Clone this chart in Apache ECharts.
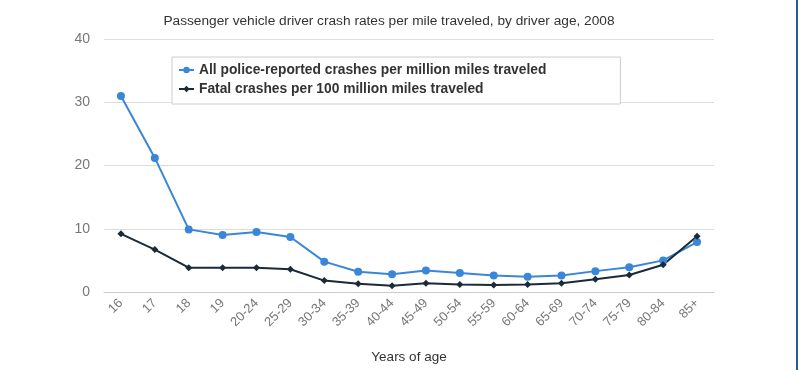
<!DOCTYPE html>
<html><head><meta charset="utf-8">
<script src="https://cdn.jsdelivr.net/npm/echarts@6/dist/echarts.min.js"></script>
<style>html,body{margin:0;padding:0;background:#fff}#c{width:799px;height:370px}</style>
</head><body><div id="c"></div>
<script>
const categories = ['16','17','18','19','20-24','25-29','30-34','35-39','40-44','45-49','50-54','55-59','60-64','65-69','70-74','75-79','80-84','85+'];
const allCrashes = [31.0,21.2,9.9,9.0,9.5,8.7,4.8,3.2,2.8,3.4,3.0,2.6,2.4,2.6,3.3,3.9,5.0,7.9];
const fatalCrashes = [9.2,6.7,3.85,3.85,3.85,3.6,1.8,1.3,1.0,1.4,1.2,1.1,1.2,1.4,2.0,2.7,4.3,8.8];
const yTicks = [0,10,20,30,40];
const seriesNames = ['All police-reported crashes per million miles traveled','Fatal crashes per 100 million miles traveled'];

const chart = echarts.init(document.getElementById('c'), null, {renderer:'canvas'});
chart.setOption({
  animation:false,
  title:{text:'Passenger vehicle driver crash rates per mile traveled, by driver age, 2008',
    left:384, top:9, textAlign:'center',
    textStyle:{fontFamily:'Liberation Sans, Arial',fontSize:13.7,fontWeight:'normal',color:'#333'}},
  legend:{orient:'vertical',left:172,top:57,
    backgroundColor:'#fff',borderColor:'#ccc',borderWidth:1,padding:[6,74,8,6],
    itemGap:5,itemWidth:15,itemHeight:8,
    textStyle:{fontFamily:'Liberation Sans, Arial',fontSize:13.8,fontWeight:'bold',color:'#333'},
    data:seriesNames},
  grid:{left:104,right:85,top:39,bottom:78},
  xAxis:{type:'category',data:categories,boundaryGap:true,
    name:'Years of age',nameLocation:'middle',nameGap:58,
    nameTextStyle:{fontFamily:'Liberation Sans, Arial',fontSize:13.5,color:'#333'},
    axisLine:{lineStyle:{color:'#ccc'}},
    axisTick:{alignWithLabel:true,length:6,lineStyle:{color:'#ccc'}},
    axisLabel:{rotate:45,fontFamily:'Liberation Sans, Arial',fontSize:13,color:'#777',margin:9}},
  yAxis:{type:'value',min:yTicks[0],max:yTicks[yTicks.length-1],interval:10,
    axisLine:{show:false},axisTick:{show:false},
    splitLine:{lineStyle:{color:'#ddd',width:1}},
    axisLabel:{fontFamily:'Liberation Sans, Arial',fontSize:14,color:'#777',margin:14}},
  series:[
    {name:seriesNames[0],type:'line',data:allCrashes,symbol:'circle',symbolSize:8,
     itemStyle:{color:'#3a86d8'},lineStyle:{color:'#3a86d8',width:2}},
    {name:seriesNames[1],type:'line',data:fatalCrashes,symbol:'diamond',symbolSize:7,
     itemStyle:{color:'#1b2a38'},lineStyle:{color:'#1b2a38',width:2}}
  ],
  graphic:[{type:'rect',shape:{x:796,y:0,width:2,height:370},style:{fill:'#2d5d85'}}]
});
</script></body></html>
